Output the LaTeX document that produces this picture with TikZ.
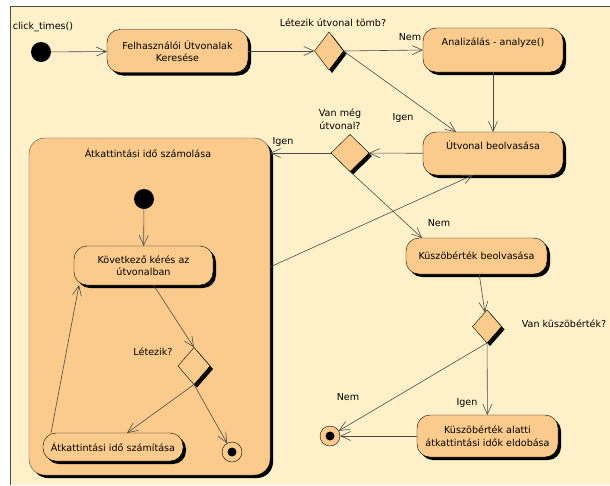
\documentclass[tikz,border=0pt]{standalone}
\usepackage{fontspec}
\setmainfont{DejaVu Sans}
\usepackage{tikz}
\usetikzlibrary{arrows.meta,calc,positioning,shapes.geometric,shadows}
\definecolor{paper}{HTML}{FEF0C8}
\definecolor{act}{HTML}{FBCB8E}
\definecolor{wire}{HTML}{4A4A4A}
\tikzset{
   activity diagram/.style={%pixel grid, y grows downwards
      x=1pt, y=-1pt,
      font=\fontsize{9.6}{12.5}\selectfont,
      every node/.style={outer sep=0pt},
      ar/.style={draw=wire, line width=.6pt, -{Straight Barb[length=10pt,width=9pt]}},
      frame/.style={draw=wire, line width=.8pt}
      },
   blackshadow/.style={drop shadow={shadow xshift=3pt, shadow yshift=-3pt, fill=black, opacity=1}},
   action/.style 2 args={draw=black, fill=act, rounded corners=13pt, align=center,
      minimum width=#1, minimum height=#2, inner sep=1pt, blackshadow},
   choice/.style 2 args={diamond, draw=black, fill=act, minimum width=#1, minimum height=#2,
      inner sep=0pt, blackshadow},
   composite/.style={draw=wire, fill=act, rounded corners=16pt, minimum width=241pt,
      minimum height=337pt, blackshadow},
   startdot/.style={circle, fill=black, minimum size=20pt, inner sep=0pt},
   enddot/.style={circle, draw=black, fill=act, minimum size=20pt, inner sep=0pt,
      path picture={\fill[black] (path picture bounding box.center) circle (4.5pt);}},
   lbl/.style={inner sep=0pt, align=center}
}

\begin{document}
\begin{tikzpicture}[activity diagram]
  \useasboundingbox (0,0) rectangle (610,485);
  \fill[paper] (10,6) rectangle (610,485);
  \draw[frame] (610,6) -- (10,6) -- (10,485);
  % main flow
  \node[startdot] (init) at (41,52) {};
  \node[lbl] (caller) at (43,27) {click\_times()};
  \node[action={141pt}{43pt}] (search) at (177.5,51) {Felhasználói Útvonalak\\Keresése};
  \node[choice={29pt}{38pt}] (D1) at (329,51) {};
  \node[lbl] (D1q) at (333,23) {Létezik útvonal tömb?};
  \node[action={140pt}{44pt}] (analyze) at (493,50) {Analizálás - analyze()\\\strut};
  \node[action={140pt}{43pt}] (read) at (493,153.5) {Útvonal beolvasása\\\strut};
  \node[choice={38pt}{37pt}] (D2) at (350,153) {};
  \node[lbl] (D2q) at (340,119) {Van még\\útvonal?};
  \node[action={141pt}{36pt}] (thr) at (476.5,256) {Küszöbérték beolvasása};
  \node[choice={29pt}{33pt}] (D3) at (487,326.5) {};
  \node[lbl] (D3q) at (564,324) {Van küszöbérték?};
  \node[action={141pt}{42pt}] (drop) at (487.5,436) {Küszöbérték alatti\\átkattintási idők eldobása};
  \node[enddot] (end1) at (330,436) {};
  % composite state
  \node[composite] (comp) at (149.5,306.5) {};
  \node[lbl] (compname) at (148,153) {Átkattintási idő számolása};
  \node[startdot] (init2) at (144,199) {};
  \node[action={139pt}{39pt}] (next) at (143.5,265.5) {Következő kérés az\\útvonalban};
  \node[choice={32pt}{37pt}] (D4) at (194,366) {};
  \node[lbl] (D4q) at (153,352) {Létezik?};
  \node[action={140pt}{28pt}] (calc) at (113,447) {Átkattintási idő számítása};
  \node[enddot] (end2) at (232,452) {};
  \coordinate (back) at ($(comp.east)+(0,-39.5)$);
  % guards
  \node[lbl] at (410,37) {Nem};
  \node[lbl] at (403,118) {Igen};
  \node[lbl] at (283,142) {Igen};
  \node[lbl] at (439,223) {Nem};
  \node[lbl] at (467,403) {Igen};
  \node[lbl] at (348,397) {Nem};
  \begin{scope}[ar]
  \draw (init) -- (search);
  \draw (search) -- (D1);
  \draw (D1.east) -- (analyze.west);
  \draw (D1.east) -- ($(read.north west)+(33,0)$);
  \draw (analyze) -- (read);
  \draw (read) -- (D2);
  \draw (D2) -- (D2 -| comp.east);
  \draw (D2.south) -- ($(thr.north west)+(16,0)$);
  \draw (back) -- ($(read.south)+(-20,0)$);
  \draw (thr) -- (D3);
  \draw (D3) -- (drop);
  \draw (D3.south) -- (end1);
  \draw (drop) -- (end1);
  \draw (init2) -- (next);
  \draw ($(next.south)+(10,0)$) -- (D4.north);
  \draw (D4.south) -- ($(calc.north)+(14,0)$);
  \draw (D4.south) -- (end2);
  \draw ($(calc.north west)+(8,0)$) -- ($(next.south west)+(5,0)$);
  \end{scope}
\end{tikzpicture}
\end{document}
